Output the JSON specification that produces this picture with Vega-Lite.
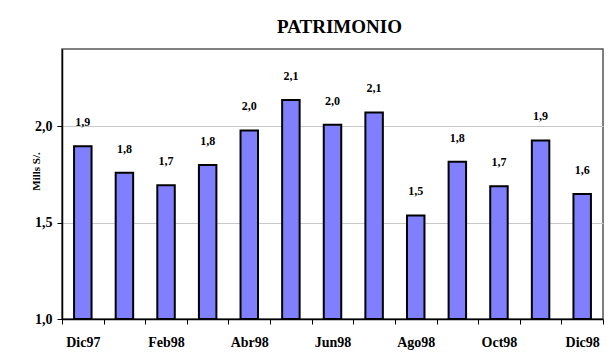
{
  "$schema": "https://vega.github.io/schema/vega-lite/v6.json",
  "width": 541,
  "height": 270,
  "autosize": {"type": "none"},
  "padding": {"left": 62, "top": 49, "right": 10, "bottom": 43},
  "background": "white",
  "title": {
    "text": "PATRIMONIO",
    "font": "Liberation Serif",
    "fontSize": 19,
    "fontWeight": "bold",
    "color": "black",
    "anchor": "middle",
    "frame": "group",
    "dx": 7,
    "offset": 12
  },
  "config": {
    "view": {"stroke": "#555555", "strokeWidth": 1.5},
    "axis": {"labelFont": "Liberation Serif", "titleFont": "Liberation Serif", "labelColor": "black", "titleColor": "black"}
  },
  "data": {
    "values": [
      {"mes": "Dic97", "valor": 1.896, "etiqueta": "1,9"},
      {"mes": "Ene98", "valor": 1.758, "etiqueta": "1,8"},
      {"mes": "Feb98", "valor": 1.694, "etiqueta": "1,7"},
      {"mes": "Mar98", "valor": 1.798, "etiqueta": "1,8"},
      {"mes": "Abr98", "valor": 1.978, "etiqueta": "2,0"},
      {"mes": "May98", "valor": 2.135, "etiqueta": "2,1"},
      {"mes": "Jun98", "valor": 2.007, "etiqueta": "2,0"},
      {"mes": "Jul98", "valor": 2.071, "etiqueta": "2,1"},
      {"mes": "Ago98", "valor": 1.537, "etiqueta": "1,5"},
      {"mes": "Sep98", "valor": 1.815, "etiqueta": "1,8"},
      {"mes": "Oct98", "valor": 1.688, "etiqueta": "1,7"},
      {"mes": "Nov98", "valor": 1.926, "etiqueta": "1,9"},
      {"mes": "Dic98", "valor": 1.648, "etiqueta": "1,6"}
    ]
  },
  "encoding": {
    "x": {
      "field": "mes",
      "type": "nominal",
      "sort": null,
      "scale": {"paddingInner": 0, "paddingOuter": 0},
      "axis": {
        "title": null,
        "labelAngle": 0,
        "labelFontSize": 14,
        "labelFontWeight": "bold",
        "labelPadding": 11,
        "tickBand": "extent",
        "tickSize": 5,
        "tickColor": "black",
        "domainColor": "black",
        "domainWidth": 1.5,
        "zindex": 1,
        "labelExpr": "indexof(['Dic97','Feb98','Abr98','Jun98','Ago98','Oct98','Dic98'], datum.value) >= 0 ? datum.value : ''"
      }
    },
    "y": {
      "field": "valor",
      "type": "quantitative",
      "scale": {"domain": [1, 2.4], "nice": false, "zero": false},
      "axis": {
        "title": "Mills S/.",
        "titleFontSize": 11,
        "titleFontWeight": "bold",
        "titleX": -26,
        "titleY": 122,
        "titleAlign": "center",
        "titleBaseline": "middle",
        "titleAngle": -90,
        "values": [1, 1.5, 2],
        "labelExpr": "replace(format(datum.value, '.1f'), '.', ',')",
        "labelFontSize": 14,
        "labelFontWeight": "bold",
        "labelPadding": 5,
        "tickSize": 5,
        "tickColor": "black",
        "domainColor": "black",
        "domainWidth": 1.5,
        "grid": true,
        "gridColor": "#c8c8c8",
        "gridWidth": 1
      }
    }
  },
  "layer": [
    {
      "mark": {"type": "bar", "color": "#8080FF", "stroke": "black", "strokeWidth": 2, "width": {"band": 0.42}},
      "encoding": {"y2": {"datum": 1}}
    },
    {
      "mark": {"type": "text", "font": "Liberation Serif", "fontSize": 12, "fontWeight": "bold", "color": "black", "baseline": "middle", "dy": -24},
      "encoding": {"text": {"field": "etiqueta"}}
    }
  ]
}
